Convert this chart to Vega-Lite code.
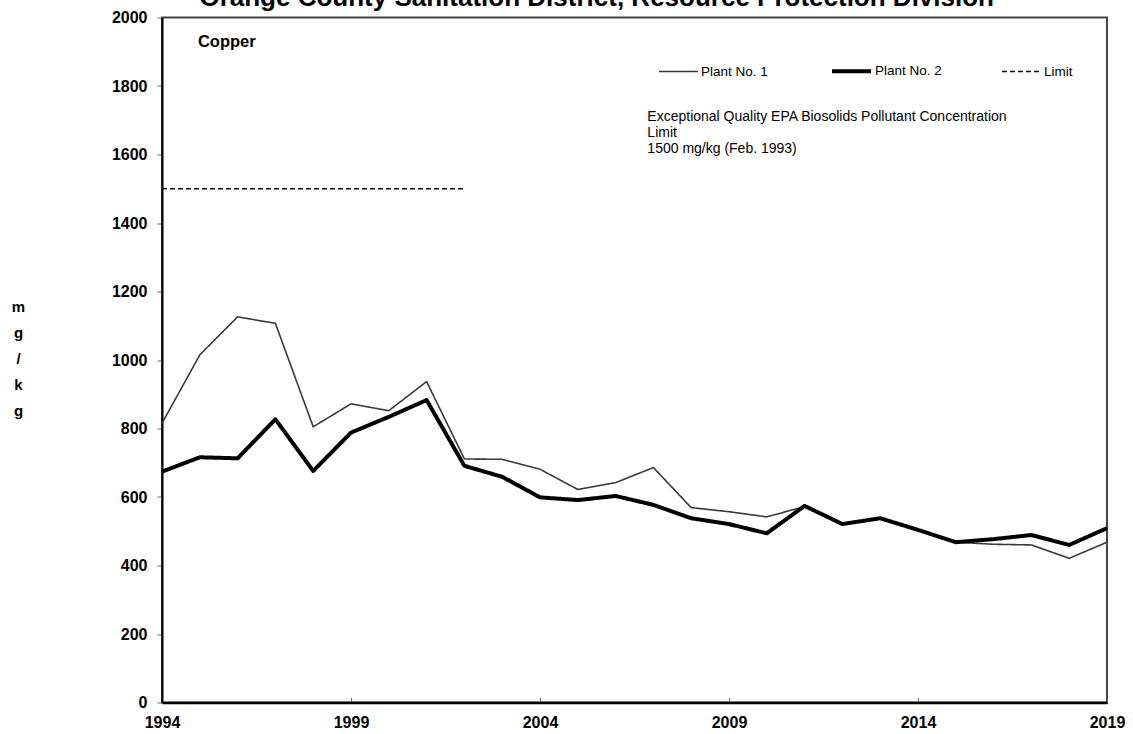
{
  "$schema": "https://vega.github.io/schema/vega-lite/v6.json",
  "width": 945,
  "height": 685,
  "autosize": {"type": "none"},
  "padding": {"left": 162, "top": 17.5, "right": 26, "bottom": 31.5},
  "background": "#ffffff",
  "config": {
    "font": "Liberation Sans, Arial, sans-serif",
    "view": {"stroke": "#444444", "strokeWidth": 2},
    "axis": {"grid": false, "labelColor": "#000000", "labelFontWeight": "bold", "labelFontSize": 16, "titleColor": "#000000"},
    "legend": {
      "orient": "none",
      "legendX": 496,
      "legendY": 32,
      "direction": "horizontal",
      "symbolType": "stroke",
      "symbolSize": 1521,
      "labelFontSize": 13.5,
      "labelColor": "#000000",
      "labelOffset": 2,
      "columnPadding": 56
    }
  },
  "data": {
    "values": [
      {"year": 1994, "value": 815, "series": "Plant No. 1"},
      {"year": 1995, "value": 1015, "series": "Plant No. 1"},
      {"year": 1996, "value": 1126, "series": "Plant No. 1"},
      {"year": 1997, "value": 1107, "series": "Plant No. 1"},
      {"year": 1998, "value": 805, "series": "Plant No. 1"},
      {"year": 1999, "value": 872, "series": "Plant No. 1"},
      {"year": 2000, "value": 852, "series": "Plant No. 1"},
      {"year": 2001, "value": 937, "series": "Plant No. 1"},
      {"year": 2002, "value": 711, "series": "Plant No. 1"},
      {"year": 2003, "value": 710, "series": "Plant No. 1"},
      {"year": 2004, "value": 681, "series": "Plant No. 1"},
      {"year": 2005, "value": 622, "series": "Plant No. 1"},
      {"year": 2006, "value": 642, "series": "Plant No. 1"},
      {"year": 2007, "value": 686, "series": "Plant No. 1"},
      {"year": 2008, "value": 569, "series": "Plant No. 1"},
      {"year": 2009, "value": 557, "series": "Plant No. 1"},
      {"year": 2010, "value": 542, "series": "Plant No. 1"},
      {"year": 2011, "value": 572, "series": "Plant No. 1"},
      {"year": 2012, "value": 521, "series": "Plant No. 1"},
      {"year": 2013, "value": 538, "series": "Plant No. 1"},
      {"year": 2014, "value": 504, "series": "Plant No. 1"},
      {"year": 2015, "value": 468, "series": "Plant No. 1"},
      {"year": 2016, "value": 462, "series": "Plant No. 1"},
      {"year": 2017, "value": 460, "series": "Plant No. 1"},
      {"year": 2018, "value": 421, "series": "Plant No. 1"},
      {"year": 2019, "value": 468, "series": "Plant No. 1"},
      {"year": 1994, "value": 674, "series": "Plant No. 2"},
      {"year": 1995, "value": 716, "series": "Plant No. 2"},
      {"year": 1996, "value": 713, "series": "Plant No. 2"},
      {"year": 1997, "value": 827, "series": "Plant No. 2"},
      {"year": 1998, "value": 676, "series": "Plant No. 2"},
      {"year": 1999, "value": 788, "series": "Plant No. 2"},
      {"year": 2000, "value": 834, "series": "Plant No. 2"},
      {"year": 2001, "value": 883, "series": "Plant No. 2"},
      {"year": 2002, "value": 691, "series": "Plant No. 2"},
      {"year": 2003, "value": 659, "series": "Plant No. 2"},
      {"year": 2004, "value": 599, "series": "Plant No. 2"},
      {"year": 2005, "value": 591, "series": "Plant No. 2"},
      {"year": 2006, "value": 603, "series": "Plant No. 2"},
      {"year": 2007, "value": 577, "series": "Plant No. 2"},
      {"year": 2008, "value": 538, "series": "Plant No. 2"},
      {"year": 2009, "value": 521, "series": "Plant No. 2"},
      {"year": 2010, "value": 494, "series": "Plant No. 2"},
      {"year": 2011, "value": 574, "series": "Plant No. 2"},
      {"year": 2012, "value": 521, "series": "Plant No. 2"},
      {"year": 2013, "value": 538, "series": "Plant No. 2"},
      {"year": 2014, "value": 504, "series": "Plant No. 2"},
      {"year": 2015, "value": 468, "series": "Plant No. 2"},
      {"year": 2016, "value": 477, "series": "Plant No. 2"},
      {"year": 2017, "value": 489, "series": "Plant No. 2"},
      {"year": 2018, "value": 460, "series": "Plant No. 2"},
      {"year": 2019, "value": 509, "series": "Plant No. 2"},
      {"year": 1994, "value": 1500, "series": "Limit"},
      {"year": 2002, "value": 1500, "series": "Limit"}
    ]
  },
  "encoding": {
    "x": {
      "field": "year",
      "type": "quantitative",
      "scale": {"domain": [1994, 2019], "nice": false, "zero": false},
      "axis": {
        "title": null,
        "values": [1994, 1999, 2004, 2009, 2014, 2019],
        "format": "d",
        "domainColor": "#000000",
        "domainWidth": 2.5,
        "tickColor": "#666666",
        "tickSize": -5,
        "labelPadding": 17,
        "labelFlush": false,
        "labelOverlap": false
      }
    },
    "y": {
      "field": "value",
      "type": "quantitative",
      "scale": {"domain": [0, 2000], "nice": false, "zero": true},
      "axis": {
        "title": ["m", "g", "/", "k", "g"],
        "titleAngle": 0,
        "titleAlign": "center",
        "titleBaseline": "middle",
        "titleFontSize": 15,
        "titleFontWeight": "bold",
        "titleLineHeight": 26,
        "titleX": -144,
        "titleY": 289,
        "values": [0, 200, 400, 600, 800, 1000, 1200, 1400, 1600, 1800, 2000],
        "format": "d",
        "domainColor": "#000000",
        "domainWidth": 2,
        "tickColor": "#666666",
        "tickSize": 5,
        "labelPadding": 10
      }
    }
  },
  "layer": [
    {
      "mark": {"type": "line", "strokeCap": "butt", "strokeJoin": "round"},
      "encoding": {
        "color": {
          "field": "series",
          "type": "nominal",
          "scale": {"domain": ["Plant No. 1", "Plant No. 2", "Limit"], "range": ["#3a3a3a", "#000000", "#111111"]},
          "legend": {"title": null}
        },
        "strokeWidth": {
          "field": "series",
          "type": "nominal",
          "scale": {"type": "ordinal", "domain": ["Plant No. 1", "Plant No. 2", "Limit"], "range": [1.6, 4, 1.6]},
          "legend": {"title": null}
        },
        "strokeDash": {
          "field": "series",
          "type": "nominal",
          "scale": {"domain": ["Plant No. 1", "Plant No. 2", "Limit"], "range": [[1, 0], [1, 0], [5, 3]]},
          "legend": {"title": null}
        }
      }
    },
    {
      "transform": [{"filter": "datum.series === 'Limit' && datum.year === 1994"}],
      "mark": {"type": "text", "text": "Orange County Sanitation District, Resource Protection Division", "align": "center", "baseline": "alphabetic", "fontWeight": "bold", "fontSize": 26, "color": "#000000"},
      "encoding": {
        "x": {"datum": 2005.5},
        "y": {"datum": 2035}
      }
    },
    {
      "transform": [{"filter": "datum.series === 'Limit' && datum.year === 1994"}],
      "mark": {"type": "text", "text": "Copper", "align": "left", "baseline": "middle", "fontWeight": "bold", "fontSize": 16.5, "color": "#000000"},
      "encoding": {
        "x": {"datum": 1994.95},
        "y": {"datum": 1928}
      }
    },
    {
      "transform": [{"filter": "datum.series === 'Limit' && datum.year === 1994"}],
      "mark": {
        "type": "text",
        "text": ["Exceptional Quality EPA Biosolids Pollutant Concentration", "Limit", "1500 mg/kg  (Feb. 1993)"],
        "align": "left",
        "baseline": "middle",
        "fontSize": 14,
        "lineHeight": 15.7,
        "color": "#000000"
      },
      "encoding": {
        "x": {"datum": 2006.84},
        "y": {"datum": 1709}
      }
    }
  ]
}
